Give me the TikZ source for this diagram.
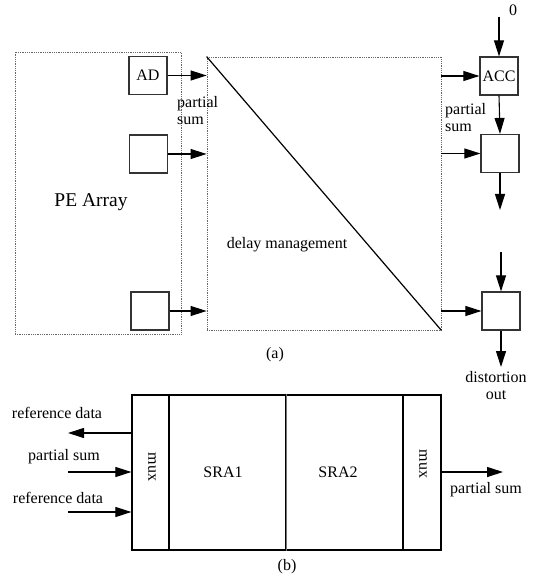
\documentclass[tikz,border=0pt]{standalone}
\usepackage{fontspec}
\setmainfont{Liberation Serif}
\usetikzlibrary{arrows.meta}
\begin{document}
\begin{tikzpicture}[x=1pt,y=-1pt,
  every node/.style={font=\fontsize{16}{17}\selectfont, inner sep=0pt},
  dotbox/.style={draw=black!60, densely dotted, line width=0.8pt, minimum width=#1},
  sqbox/.style={draw=black!80, line width=1.2pt, minimum width=38pt, minimum height=38pt},
  sect/.style={draw=black, line width=1.2pt, minimum height=155pt, minimum width=#1},
  arr/.style={-{Triangle[length=16pt,width=10pt]}, line width=1.1pt},
  lbl/.style={align=center}
]
\useasboundingbox (0,0) rectangle (539,585);
% ---- (a) ----
\node[dotbox=166pt, minimum height=282pt] (pe) at (98,193) {};
\node[font=\fontsize{19.5}{21}\selectfont] (pelbl) at (91,202) {PE Array};
\node[dotbox=234pt, minimum height=273pt] (dm) at (324,193.5) {};
\draw[line width=1.2pt] (dm.north west) -- (dm.south east);
\node (dmlbl) at (287,245) {delay management};

\node[sqbox] (ad) at (148,75.5) {AD};
\node[sqbox] (b2) at (148.5,154) {};
\node[sqbox] (b3) at (150,311) {};

\draw[arr] (ad.east) -- (ad.east -| dm.west);
\draw[arr] (b2.east) -- (b2.east -| dm.west);
\draw[arr] (b3.east) -- (b3.east -| dm.west);
\node[align=left, anchor=west] (ps1) at (177,111) {partial\\sum};

\node[sqbox] (acc) at (499,76) {ACC};
\node[sqbox] (s2) at (500,153.5) {};
\node[sqbox] (s3) at (501,311) {};

\draw[arr] (acc.west -| dm.east) -- (acc.west);
\draw[arr] (s2.west -| dm.east) -- (s2.west);
\draw[arr] (s3.west -| dm.east) -- (s3.west);
\node[align=left, anchor=west] (ps2) at (445,118) {partial\\sum};

\coordinate (zero) at (499,17);
\node (zerolbl) at (513,10) {0};
\draw[arr] (zero) -- (acc.north);
\draw[arr] (acc.south) -- (s2.north);
\coordinate (s2out) at (500,210);
\draw[arr] (s2.south) -- (s2out);
\coordinate (s3in) at (501,252);
\draw[arr] (s3in) -- (s3.north);
\coordinate (s3out) at (501,367);
\draw[arr] (s3.south) -- (s3out);
\node[lbl] (dist) at (496,386) {distortion\\out};
\node (capa) at (275,355) {(a)};

% ---- (b) ----
\node[sect=37pt] (mux1) at (150.5,472.5) {};
\node[sect=117pt] (sra1) at (227.5,472.5) {};
\node[sect=117pt] (sra2) at (344.5,472.5) {};
\node[sect=38pt] (mux2) at (422,472.5) {};
\draw[black!55, line width=1.2pt] (sra1.north east) -- (sra1.south east);
\node[rotate=-90] (m1lbl) at (152,467) {mux};
\node[rotate=-90] (m2lbl) at (423,464) {mux};
\node (sra1lbl) at (223,472) {SRA1};
\node (sra2lbl) at (338,472) {SRA2};

\coordinate (refout) at (68,433);
\draw[arr] (mux1.west |- refout) -- (refout);
\coordinate (psin) at (68,472);
\draw[arr] (psin) -- (psin -| mux1.west);
\coordinate (refin) at (68,512);
\draw[arr] (refin) -- (refin -| mux1.west);
\node (l1) at (57,413) {reference data};
\node (l2) at (64,457) {partial sum};
\node (l3) at (58,498) {reference data};

\coordinate (psout) at (503,472);
\draw[arr] (mux2.east |- psout) -- (psout);
\node (l4) at (486,490) {partial sum};
\node (capb) at (287,567) {(b)};
\end{tikzpicture}
\end{document}
